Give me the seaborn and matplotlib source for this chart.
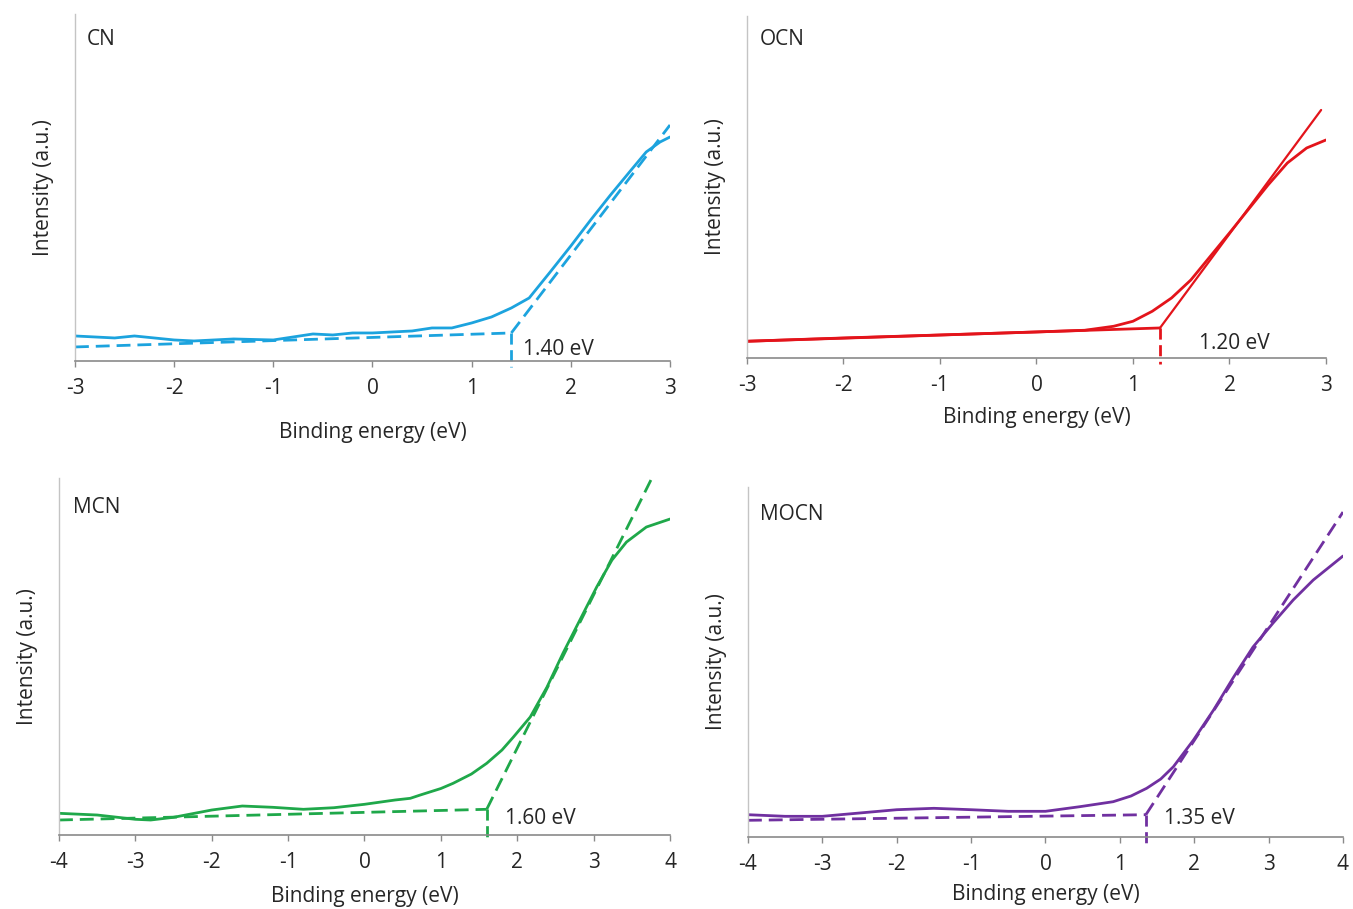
import matplotlib
matplotlib.use("Agg")
import matplotlib.pyplot as plt
import numpy as np
import pandas as pd
import seaborn as sns

# ---- data (intensity in arbitrary units) ----
cn_x = [-3, -2.6, -2.4, -2, -1.8, -1.4, -1, -0.6, -0.4, -0.2, 0, 0.4, 0.6, 0.8, 1.0, 1.2, 1.4, 1.58,
        1.8, 2.0, 2.2, 2.4, 2.6, 2.76, 2.9, 3.0]
cn_y = [25, 23, 25, 21, 20, 22, 21, 27, 26, 28, 28, 30, 33, 33, 38, 44, 53, 63,
        90, 115, 141, 166, 190, 209, 219, 224]
cn_base_x = [-3, 1.4]
cn_base_y = [14, 28]
cn_tan_x = [1.4, 3.0]
cn_tan_y = [28, 236]
cn_gap = 1.40

ocn_x = [-3, -2, -1, 0, 0.5, 0.8, 1.0, 1.2, 1.4, 1.6, 2.0, 2.4, 2.6, 2.8, 3.0]
ocn_y = [16.7, 20, 23, 26, 27.7, 31.7, 36.7, 46.7, 60, 78, 125, 173, 195, 210, 218]
ocn_base_x = [-3, 1.28]
ocn_base_y = [16.7, 30]
ocn_tan_x = [1.28, 2.95]
ocn_tan_y = [30, 248]
ocn_gap = 1.28

mcn_x = [-4, -3.5, -3, -2.8, -2.5, -2, -1.6, -1.2, -0.8, -0.4, 0, 0.4, 0.6, 0.73, 1.0, 1.16, 1.4,
         1.6, 1.8, 1.95, 2.17, 2.39, 2.6, 2.82, 3.04, 3.24, 3.43, 3.69, 4.0]
mcn_y = [21.7, 20, 15.7, 15, 17.7, 25, 29, 27.7, 25.7, 27.3, 30.7, 35, 36.7, 40, 46.5, 51.7, 61,
         71.7, 85, 98, 118, 148, 182, 215, 248, 275, 293, 308, 316]
mcn_base_x = [-4, 1.6]
mcn_base_y = [15, 25.7]
mcn_tan_x = [1.6, 3.75]
mcn_tan_y = [25.7, 355]
mcn_gap = 1.60

mocn_x = [-4, -3.5, -3, -2.5, -2, -1.5, -1, -0.5, 0, 0.46, 0.91, 1.15, 1.36, 1.55, 1.72, 1.99, 2.26,
          2.53, 2.79, 3.06, 3.33, 3.6, 4.0]
mocn_y = [22.3, 20.7, 20.7, 24, 27.3, 28.7, 27.3, 25.7, 25.7, 30.3, 35.3, 41, 48.7, 58, 70.3, 97, 127,
          160, 190, 214, 237, 257, 281]
mocn_base_x = [-4, 1.35]
mocn_base_y = [16.7, 22.3]
mocn_tan_x = [1.35, 4.0]
mocn_tan_y = [22.3, 325]
mocn_gap = 1.35

sns.set_theme(style="white")
plt.rcParams['font.family'] = ['Open Sans', 'DejaVu Sans']
plt.rcParams['axes.unicode_minus'] = False

fig = plt.figure(figsize=(13.53, 9.09), dpi=100)

dash = (0, (5, 2.5))
fs = 15

panels = [
    ("CN", "#1ca3de", cn_x, cn_y, cn_base_x, cn_base_y, cn_tan_x, cn_tan_y, cn_gap, "1.40 eV",
     (1.52, 11), (-2.88, 321), (-3, 3), 347, [0.0554, 0.6029, 0.4398, 0.3817], "dashed", 16.5),
    ("OCN", "#e3141b", ocn_x, ocn_y, ocn_base_x, ocn_base_y, ocn_tan_x, ocn_tan_y, ocn_gap, "1.20 eV",
     (1.68, 14), (-2.87, 318), (-3, 3), 342, [0.5521, 0.6062, 0.4279, 0.3762], "solid", 8.5),
    ("MCN", "#1fa84a", mcn_x, mcn_y, mcn_base_x, mcn_base_y, mcn_tan_x, mcn_tan_y, mcn_gap, "1.60 eV",
     (1.84, 16.7), (-3.82, 328), (-4, 4), 357, [0.0436, 0.0814, 0.4516, 0.3927], "dashed", 9.5),
    ("MOCN", "#7030a0", mocn_x, mocn_y, mocn_base_x, mocn_base_y, mocn_tan_x, mocn_tan_y, mocn_gap, "1.35 eV",
     (1.60, 18.3), (-3.84, 323), (-4, 4), 350, [0.5528, 0.0792, 0.4398, 0.385], "dashed", 7),
]

for (name, color, x, y, bx, by, tx, ty, gap, gtxt, gpos, npos, xlim, ymax, rect, tstyle, lpad) in panels:
    ax = fig.add_axes(rect)
    df = pd.DataFrame({"x": x, "y": y})
    sns.lineplot(data=df, x="x", y="y", ax=ax, color=color, lw=2.0, sort=False)
    ls = dash if tstyle == "dashed" else "-"
    ax.plot(bx, by, color=color, lw=2.0, ls=ls)
    ax.plot(tx, ty, color=color, lw=2.0 if tstyle == "dashed" else 1.6, ls=ls)
    ax.plot([gap, gap], [by[-1], -6], color=color, lw=2.0, ls=(0, (4, 2)), clip_on=False)
    ax.text(gpos[0], gpos[1], gtxt, fontsize=fs, va="center", ha="left")
    ax.text(npos[0], npos[1], name, fontsize=fs, va="center", ha="left")

    ax.set_xlim(*xlim)
    ax.set_ylim(0, ymax)
    ax.set_xticks(range(xlim[0], xlim[1] + 1))
    ax.set_yticks([])
    ax.set_xlabel("Binding energy (eV)", fontsize=fs, labelpad=lpad)
    ax.set_ylabel("Intensity (a.u.)", fontsize=fs, labelpad=15)
    for s in ["top", "right"]:
        ax.spines[s].set_visible(False)
    ax.spines["left"].set_color("#c4c4c4")
    ax.spines["bottom"].set_color("#8a8a8a")
    ax.spines["left"].set_linewidth(1.0)
    ax.spines["bottom"].set_linewidth(1.2)
    ax.tick_params(axis="x", direction="out", length=4, width=1, color="#8a8a8a",
                   labelsize=fs, pad=8, bottom=True)

fig.savefig("out.png", dpi=100)
